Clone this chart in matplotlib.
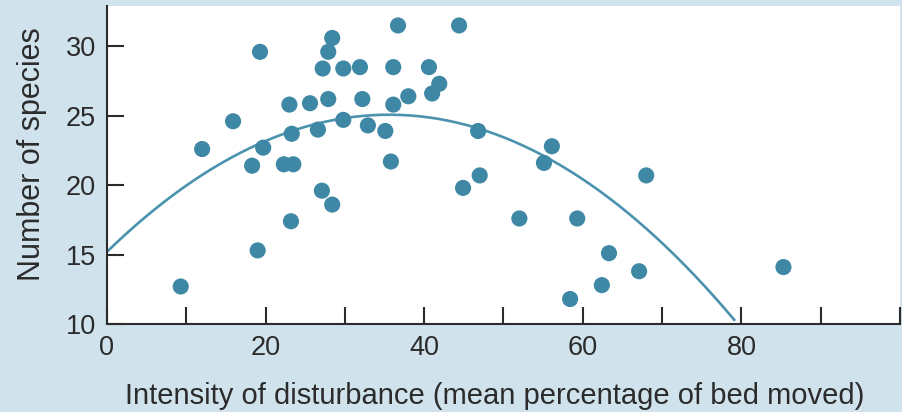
import numpy as np
import matplotlib
matplotlib.use('Agg')
from matplotlib import pyplot as plt

# 撹乱の強さ(%) と 種数
disturbance = [9.3, 12.0, 15.9, 18.3, 19.0, 19.3, 19.7, 23.0, 22.3, 23.5,
               23.2, 23.3, 25.6, 26.6, 27.1, 27.2, 27.9, 28.4, 27.9, 28.4,
               29.8, 29.8, 31.9, 32.2, 32.9, 35.1, 35.8, 36.1, 36.1, 36.7,
               38.0, 40.6, 41.0, 41.9, 44.4, 44.9, 46.8, 47.0, 52.0, 55.1,
               56.1, 58.4, 59.3, 62.4, 63.3, 67.1, 68.0, 85.3]
species = [12.7, 22.6, 24.6, 21.4, 15.3, 29.6, 22.7, 25.8, 21.5, 21.5,
           17.4, 23.7, 25.9, 24.0, 19.6, 28.4, 29.6, 30.6, 26.2, 18.6,
           28.4, 24.7, 28.5, 26.2, 24.3, 23.9, 21.7, 28.5, 25.8, 31.5,
           26.4, 28.5, 26.6, 27.3, 31.5, 19.8, 23.9, 20.7, 17.6, 21.6,
           22.8, 11.8, 17.6, 12.8, 15.1, 13.8, 20.7, 14.1]

# 二次回帰曲線の係数 (y = c0 + c1*x + c2*x^2)
fit_coef = [15.2, 0.555, -0.0078]
fit_range = [0, 79.2]

xticks = list(range(0, 101, 10))
xticklabels = ['0', '', '20', '', '40', '', '60', '', '80', '', '']
yticks = [10, 15, 20, 25, 30]

bg = '#d0e2ec'
dot = '#3f88a5'
line = '#4a92ad'
ink = '#2b2b2b'

plt.rcParams['font.family'] = ['Liberation Sans', 'DejaVu Sans']

fig = plt.figure(figsize=(9.02, 4.12), dpi=100, facecolor=bg)
ax = fig.add_axes([0.1186, 0.2136, 0.8792, 0.7718])
ax.set_facecolor('white')

xx = np.linspace(fit_range[0], fit_range[1], 200)
yy = fit_coef[0] + fit_coef[1] * xx + fit_coef[2] * xx ** 2
ax.plot(xx, yy, color=line, lw=1.9, zorder=2, solid_capstyle='butt')
ax.scatter(disturbance, species, s=135, color=dot, edgecolors='none', zorder=3)

ax.set_xlim(0, 100)
ax.set_ylim(10, 32.9)
ax.set_xticks(xticks)
ax.set_xticklabels(xticklabels)
ax.set_yticks(yticks)

for s in ['top', 'right']:
    ax.spines[s].set_visible(False)
for s in ['left', 'bottom']:
    ax.spines[s].set_linewidth(1.5)
    ax.spines[s].set_color(ink)

ax.tick_params(direction='in', length=12, width=1.5, color=ink,
               labelsize=19.5, labelcolor=ink, pad=8)

ax.set_xlabel('Intensity of disturbance (mean percentage of bed moved)',
              fontsize=21, color=ink)
ax.set_ylabel('Number of species', fontsize=22, color=ink)
ax.xaxis.set_label_coords(0.489, -0.183)
ax.yaxis.set_label_coords(-0.075, 0.535)

fig.savefig('out.png', dpi=100, facecolor=bg)
